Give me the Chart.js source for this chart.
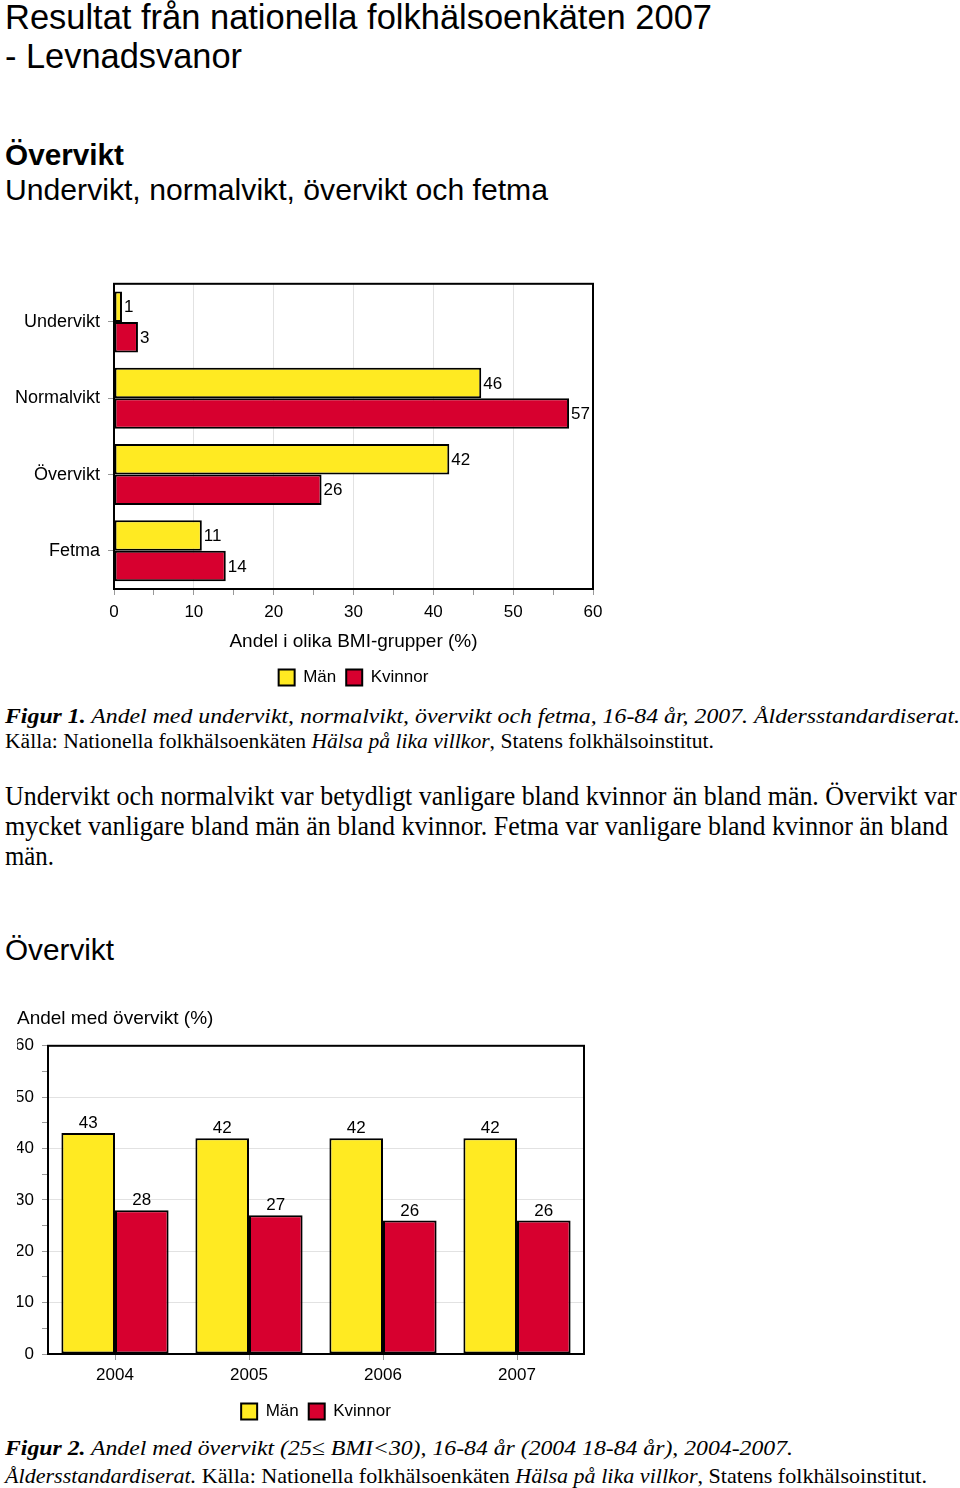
<!DOCTYPE html>
<html><head><meta charset="utf-8">
<script src="https://cdn.jsdelivr.net/npm/chart.js@4/dist/chart.umd.min.js"></script>
<style>
html,body{margin:0;padding:0;background:#fff}
body{width:960px;height:1488px;position:relative;overflow:hidden}
.t{position:absolute;left:5px;white-space:nowrap;line-height:1;transform-origin:0 0;color:#000}
.sans{font-family:"Liberation Sans",Arial,Helvetica,sans-serif}
.serif{font-family:"Liberation Serif","Times New Roman",serif}
canvas{position:absolute}
</style></head><body>

<div class="t sans" style="font-size:35px" data-b="29" data-w="707">Resultat från nationella folkhälsoenkäten 2007</div>
<div class="t sans" style="font-size:35px" data-b="68" data-w="237">- Levnadsvanor</div>
<div class="t sans" style="font-size:30px;font-weight:bold" data-b="165" data-w="119">Övervikt</div>
<div class="t sans" style="font-size:30px" data-b="200" data-w="543">Undervikt, normalvikt, övervikt och fetma</div>

<div class="t serif" style="font-size:22px" data-b="723" data-w="955"><b><i>Figur 1.</i></b><i> Andel med undervikt, normalvikt, övervikt och fetma, 16-84 år, 2007. Åldersstandardiserat.</i></div>
<div class="t serif" style="font-size:20px" data-b="748" data-w="709">Källa: Nationella folkhälsoenkäten <i>Hälsa på lika villkor</i>, Statens folkhälsoinstitut.</div>

<div class="t serif" style="font-size:27px" data-b="806" data-w="952">Undervikt och normalvikt var betydligt vanligare bland kvinnor än bland män. Övervikt var</div>
<div class="t serif" style="font-size:27px" data-b="836" data-w="943">mycket vanligare bland män än bland kvinnor. Fetma var vanligare bland kvinnor än bland</div>
<div class="t serif" style="font-size:27px" data-b="866" data-w="49">män.</div>

<div class="t sans" style="font-size:30px" data-b="960" data-w="109">Övervikt</div>

<div class="t serif" style="font-size:22px" data-b="1455" data-w="788"><b><i>Figur 2.</i></b><i> Andel med övervikt (25≤ BMI&lt;30), 16-84 år (2004 18-84 år), 2004-2007.</i></div>
<div class="t serif" style="font-size:22px" data-b="1483" data-w="922"><i>Åldersstandardiserat.</i> Källa: Nationella folkhälsoenkäten <i>Hälsa på lika villkor</i>, Statens folkhälsoinstitut.</div>

<canvas id="c1" width="620" height="436" style="left:0;top:265px;width:620px;height:436px"></canvas>
<canvas id="c2" width="600" height="437" style="left:0;top:995px;width:600px;height:437px"></canvas>

<script>
// ---- data ----
const bmiCategories = ['Undervikt', 'Normalvikt', 'Övervikt', 'Fetma'];
const bmiMen = [1, 46, 42, 11];
const bmiWomen = [3, 57, 26, 14];
const bmiAxisMin = 0, bmiAxisMax = 60;
const bmiAxisTitle = 'Andel i olika BMI-grupper (%)';

const years = ['2004', '2005', '2006', '2007'];
const overMen = [43, 42, 42, 42];
const overWomen = [28, 27, 26, 26];
const overAxisMin = 0, overAxisMax = 60;
const overAxisTitle = 'Andel med övervikt (%)';

const seriesNames = ['Män', 'Kvinnor'];

// ---- text placement ----
document.querySelectorAll('.t').forEach(el => {
  const fs = parseFloat(el.style.fontSize);
  const f = el.classList.contains('serif') ? 0.8375 : 0.8465;
  el.style.top = (parseFloat(el.dataset.b) - fs * f) + 'px';
  const w = el.getBoundingClientRect().width;
  const target = parseFloat(el.dataset.w);
  el.style.transform = 'scaleX(' + (target / w) + ')';
});

// ---- charts ----
const YELLOW = '#FFEA22', RED = '#D7002F';
Chart.defaults.font.family = '"Liberation Sans", Arial, Helvetica, sans-serif';
Chart.defaults.color = '#000';

const framePlugin = {
  id: 'frame',
  afterDatasetsDraw(chart) {
    const a = chart.chartArea, ctx = chart.ctx;
    ctx.save();
    ctx.strokeStyle = '#000';
    ctx.lineWidth = 2;
    ctx.strokeRect(a.left, a.top, a.right - a.left, a.bottom - a.top);
    ctx.restore();
  }
};
const valuePlugin = {
  id: 'values',
  afterDatasetsDraw(chart) {
    const ctx = chart.ctx;
    const horiz = chart.options.indexAxis === 'y';
    ctx.save();
    ctx.fillStyle = '#000';
    ctx.font = '17px "Liberation Sans", Arial, sans-serif';
    chart.data.datasets.forEach((ds, di) => {
      chart.getDatasetMeta(di).data.forEach((el, i) => {
        const v = ds.data[i];
        if (horiz) {
          ctx.textAlign = 'left'; ctx.textBaseline = 'middle';
          ctx.fillText(String(v), el.x + 2, el.y + 1);
        } else {
          ctx.textAlign = 'center'; ctx.textBaseline = 'bottom';
          ctx.fillText(String(v), el.x, el.y - 1);
        }
      });
    });
    ctx.restore();
  }
};
function gridColor(ctx) {
  const v = ctx.tick ? ctx.tick.value : null;
  return (v !== null && v % 10 === 0 && v > 0 && v < 60) ? '#e2e2e2' : 'rgba(0,0,0,0)';
}
const legendOpts = {
  position: 'bottom', fullSize: false,
  labels: { boxWidth: 16, boxHeight: 16, font: { size: 17 }, color: '#000', padding: 10 }
};
function ds(label, data, color) {
  return { label, data, backgroundColor: color, borderColor: '#000', borderWidth: 2, borderSkipped: false,
           categoryPercentage: 0.8, barPercentage: 1.0 };
}

new Chart(document.getElementById('c1'), {
  type: 'bar',
  data: { labels: bmiCategories, datasets: [ds(seriesNames[0], bmiMen, YELLOW), ds(seriesNames[1], bmiWomen, RED)] },
  options: {
    indexAxis: 'y', responsive: false, animation: false, devicePixelRatio: 1,
    layout: { padding: { top: 14, right: 27, bottom: 5, left: 0 } },
    scales: {
      x: {
        min: bmiAxisMin, max: bmiAxisMax,
        ticks: { stepSize: 5, autoSkip: false, maxRotation: 0, font: { size: 17 }, color: '#000', padding: 7,
                 callback: v => (v % 10 === 0 ? String(v) : '') },
        grid: { color: gridColor, tickColor: '#999', tickLength: 6, drawTicks: true },
        border: { display: false },
        title: { display: true, text: bmiAxisTitle, font: { size: 19 }, color: '#000', padding: { top: 0, bottom: 6 } },
        afterFit: s => { s.height = 70; }
      },
      y: {
        ticks: { font: { size: 18 }, color: '#000', padding: 8 },
        grid: { offset: false, color: 'rgba(0,0,0,0)', tickColor: '#999', tickLength: 6 },
        border: { display: false },
        afterFit: s => { s.width = 114; }
      }
    },
    plugins: { legend: legendOpts, tooltip: { enabled: false }, title: { display: false } }
  },
  plugins: [framePlugin, valuePlugin]
});

new Chart(document.getElementById('c2'), {
  type: 'bar',
  data: { labels: years, datasets: [ds(seriesNames[0], overMen, YELLOW), ds(seriesNames[1], overWomen, RED)] },
  options: {
    responsive: false, animation: false, devicePixelRatio: 1,
    layout: { padding: { top: 0, right: 16, bottom: 2, left: 17 } },
    scales: {
      y: {
        min: overAxisMin, max: overAxisMax,
        ticks: { stepSize: 5, autoSkip: false, font: { size: 17 }, color: '#000', padding: 8,
                 callback: v => (v % 10 === 0 ? String(v) : '') },
        grid: { color: gridColor, tickColor: '#999', tickLength: 6 },
        border: { display: false },
        afterFit: s => { s.width = 31; }
      },
      x: {
        ticks: { font: { size: 17 }, color: '#000', padding: 5, maxRotation: 0 },
        grid: { offset: false, color: 'rgba(0,0,0,0)', tickColor: '#999', tickLength: 6 },
        border: { display: false },
        afterFit: s => { s.height = 39; }
      }
    },
    plugins: {
      legend: legendOpts, tooltip: { enabled: false },
      title: { display: true, text: overAxisTitle, align: 'start', font: { size: 19, weight: 'normal' }, color: '#000',
               padding: { top: 12, bottom: 16 } }
    }
  },
  plugins: [framePlugin, valuePlugin]
});
</script>
</body></html>
